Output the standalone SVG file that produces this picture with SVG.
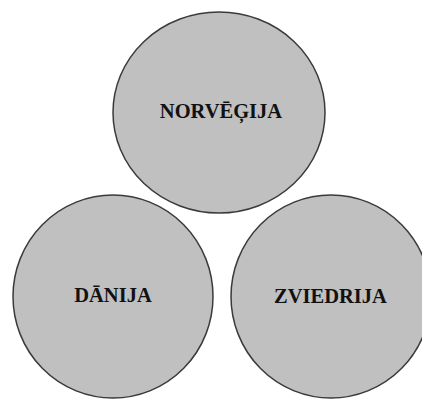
<svg xmlns="http://www.w3.org/2000/svg" width="422" height="401" viewBox="0 0 422 401">
<style>
.c{fill:#c0c0c0;stroke:#3a3a3a;stroke-width:1.5}
.t{font-family:"Liberation Serif","Times New Roman",serif;font-weight:bold;font-size:20.5px;fill:#111;text-anchor:middle}
</style>
<rect width="422" height="401" fill="#fff"/>
<g id="connectors"/>
<g id="norvegija">
<ellipse class="c" cx="219" cy="112.5" rx="106" ry="100.5"/>
<text class="t" x="221" y="118">NORVĒĢIJA</text>
</g>
<g id="danija">
<ellipse class="c" cx="113" cy="296.5" rx="100" ry="101.5"/>
<text class="t" x="113" y="302">DĀNIJA</text>
</g>
<g id="zviedrija">
<ellipse class="c" cx="331" cy="296.5" rx="100" ry="101.5"/>
<text class="t" x="330.5" y="303">ZVIEDRIJA</text>
</g>
</svg>
